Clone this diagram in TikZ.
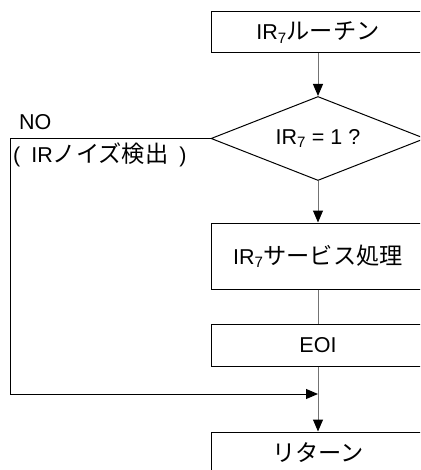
\documentclass[tikz,border=0pt]{standalone}
\usepackage{fontspec}
\setmainfont{Liberation Sans}
\newfontfamily\jp[Scale=1.08]{Noto Sans CJK JP}
\usetikzlibrary{shapes.geometric,arrows.meta}

\begin{document}
\begin{tikzpicture}[x=1pt,y=-1pt,
    box/.style={draw=black,line width=1pt,fill=white,minimum width=214pt,inner sep=0pt},
    test/.style={draw=black,line width=1pt,shape=diamond,aspect=2.55,minimum width=214pt,minimum height=84pt,inner sep=0pt},
    flow/.style={draw=black!55,line width=1pt,-{Triangle[length=12pt,width=10pt,color=black]}},
    link/.style={draw=black!55,line width=1pt},
    back/.style={draw=black,line width=1pt,-{Triangle[length=12pt,width=10pt]}},
    font=\fontsize{21.5}{24}\selectfont]
      \clip (0,0) rectangle (420,470);
      \fill[white] (0,0) rectangle (420,470);
      % Drawing boxes
      \node[box,minimum height=41pt] (rout) at (318,32.5) {IR\textsubscript{7}{\jp ルーチン}};
      \node[test] (chk) at (318,138.5) {IR\textsubscript{7} = 1 ?};
      \node[box,minimum height=66pt] (svc) at (318,256) {IR\textsubscript{7}{\jp サービス処理}};
      \node[box,minimum height=42pt] (eoi) at (318,345) {EOI};
      \node[box,minimum height=41pt] (ret) at (318,452.5) {\jp リターン};
      % Done with boxes; drawing labels
      \node[anchor=base west,inner sep=0pt] (no) at (19,130) {NO};
      \node[anchor=base west,inner sep=0pt] (noise) at (13,163) {(\hspace{11pt}IR{\jp ノイズ検出}\hspace{11pt})};
      % Drawing connectors
      \coordinate (corner) at (10,138.5);
      \coordinate (join) at (eoi.south |- 0,394);
      \draw[flow] (rout) -- (chk);
      \draw[flow] (chk) -- (svc);
      \draw[link] (svc) -- (eoi);
      \draw[flow] (eoi) -- (ret);
      \draw[back] (chk.west) -- (corner) |- (join);
\end{tikzpicture}
\end{document}
